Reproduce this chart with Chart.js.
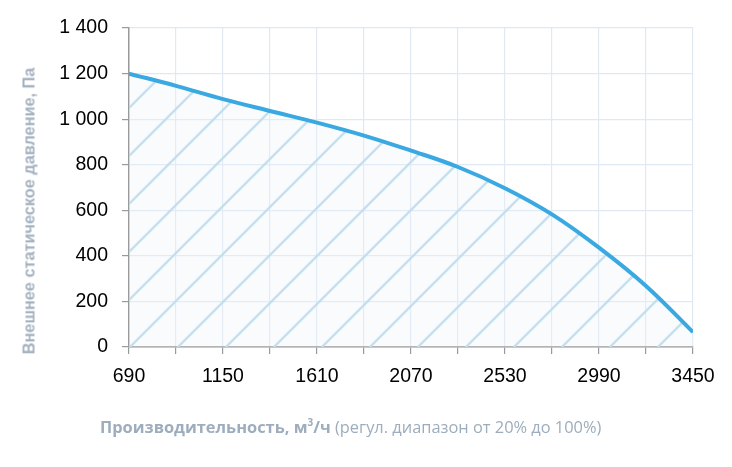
<!DOCTYPE html>
<html>
<head>
<meta charset="utf-8">
<script src="https://cdn.jsdelivr.net/npm/chart.js@4.4.0/dist/chart.umd.min.js"></script>
<style>
  html, body { margin: 0; padding: 0; background: #ffffff; }
  #wrap { position: relative; width: 732px; height: 467px; overflow: hidden; }
  #c { position: absolute; left: 0; top: 0; }
  #ytitle {
    position: absolute; left: 29px; top: 211px;
    transform: translate(-50%, -50%) rotate(-90deg);
    white-space: nowrap;
    font-family: "Liberation Sans", Arial, sans-serif;
    font-weight: bold; font-size: 16.3px; color: #a2b0bf;
  }
  #xtitle {
    position: absolute; left: 100px; top: 417px; line-height: 20px;
    white-space: nowrap;
    font-family: "Open Sans", Lato, sans-serif;
    font-size: 16.4px; color: #9dadbd;
  }
  #xtitle b { font-weight: bold; }
  #xtitle sup { font-size: 10px; vertical-align: 7px; line-height: 0; }
</style>
</head>
<body>
<div id="wrap">
  <canvas id="c" width="732" height="467"></canvas>
  <div id="ytitle">Внешнее статическое давление, Па</div>
  <div id="xtitle"><b>Производительность, м<sup>3</sup>/ч</b> (регул. диапазон от 20% до 100%)</div>
</div>
<script>
// ---- data ----
const flowValues = [690, 920, 1150, 1380, 1610, 1840, 2070, 2300, 2530, 2760, 2990, 3220, 3450];
const pressureValues = [1200, 1146, 1088, 1036, 985, 928, 862, 790, 697, 582, 436, 268, 65];
const xTickLabels = [690, 1150, 1610, 2070, 2530, 2990, 3450];
const yTickValues = [0, 200, 400, 600, 800, 1000, 1200, 1400];

// ---- hatch pattern ----
function makeHatch() {
  const s = 48;
  const off = 45;
  const p = document.createElement('canvas');
  p.width = s; p.height = s;
  const g = p.getContext('2d');
  g.fillStyle = 'rgba(236,243,249,0.30)';
  g.fillRect(0, 0, s, s);
  g.strokeStyle = 'rgba(188,222,240,0.9)';
  g.lineWidth = 2.4;
  [off - s, off, off + s].forEach(k => {
    g.beginPath();
    g.moveTo(-5, k + 5);
    g.lineTo(k + 5, -5);
    g.stroke();
  });
  return g.createPattern(p, 'repeat');
}

const ctx = document.getElementById('c').getContext('2d');
const tickFont = { family: '"Liberation Sans", Arial, sans-serif', size: 19.5 };

new Chart(ctx, {
  type: 'line',
  data: {
    datasets: [{
      data: flowValues.map((x, i) => ({ x: x, y: pressureValues[i] })),
      borderColor: '#3aa9e2',
      borderWidth: 4,
      pointRadius: 0,
      tension: 0.4,
      fill: 'origin',
      backgroundColor: makeHatch()
    }]
  },
  options: {
    responsive: false,
    animation: false,
    devicePixelRatio: 1,
    layout: { padding: { left: 0, right: 39, top: 28, bottom: 0 } },
    plugins: { legend: { display: false }, tooltip: { enabled: false } },
    scales: {
      x: {
        type: 'linear',
        min: 690, max: 3450,
        afterFit: s => { s.height = 120; },
        afterBuildTicks: s => {
          s.ticks = [];
          for (let v = 690; v <= 3450; v += 230) s.ticks.push({ value: v });
        },
        ticks: {
          autoSkip: false, maxRotation: 0,
          color: '#000000', font: tickFont, padding: 11,
          callback: v => (xTickLabels.includes(v) ? String(v) : '')
        },
        grid: { color: '#e0e9f3', lineWidth: 1.2, tickColor: '#9a9a9a', tickLength: 7, drawTicks: true },
        border: { color: '#9a9a9a', width: 1.5 }
      },
      y: {
        min: 0, max: 1400,
        afterFit: s => { s.width = 129; },
        afterBuildTicks: s => { s.ticks = yTickValues.map(v => ({ value: v })); },
        ticks: {
          color: '#000000', font: tickFont, padding: 14,
          callback: v => String(v).replace(/\B(?=(\d{3})+(?!\d))/g, '\u00a0')
        },
        grid: { color: '#e0e9f3', lineWidth: 1.2, tickColor: '#9a9a9a', tickLength: 7 },
        border: { color: '#9a9a9a', width: 1.5 }
      }
    }
  }
});
</script>
</body>
</html>
